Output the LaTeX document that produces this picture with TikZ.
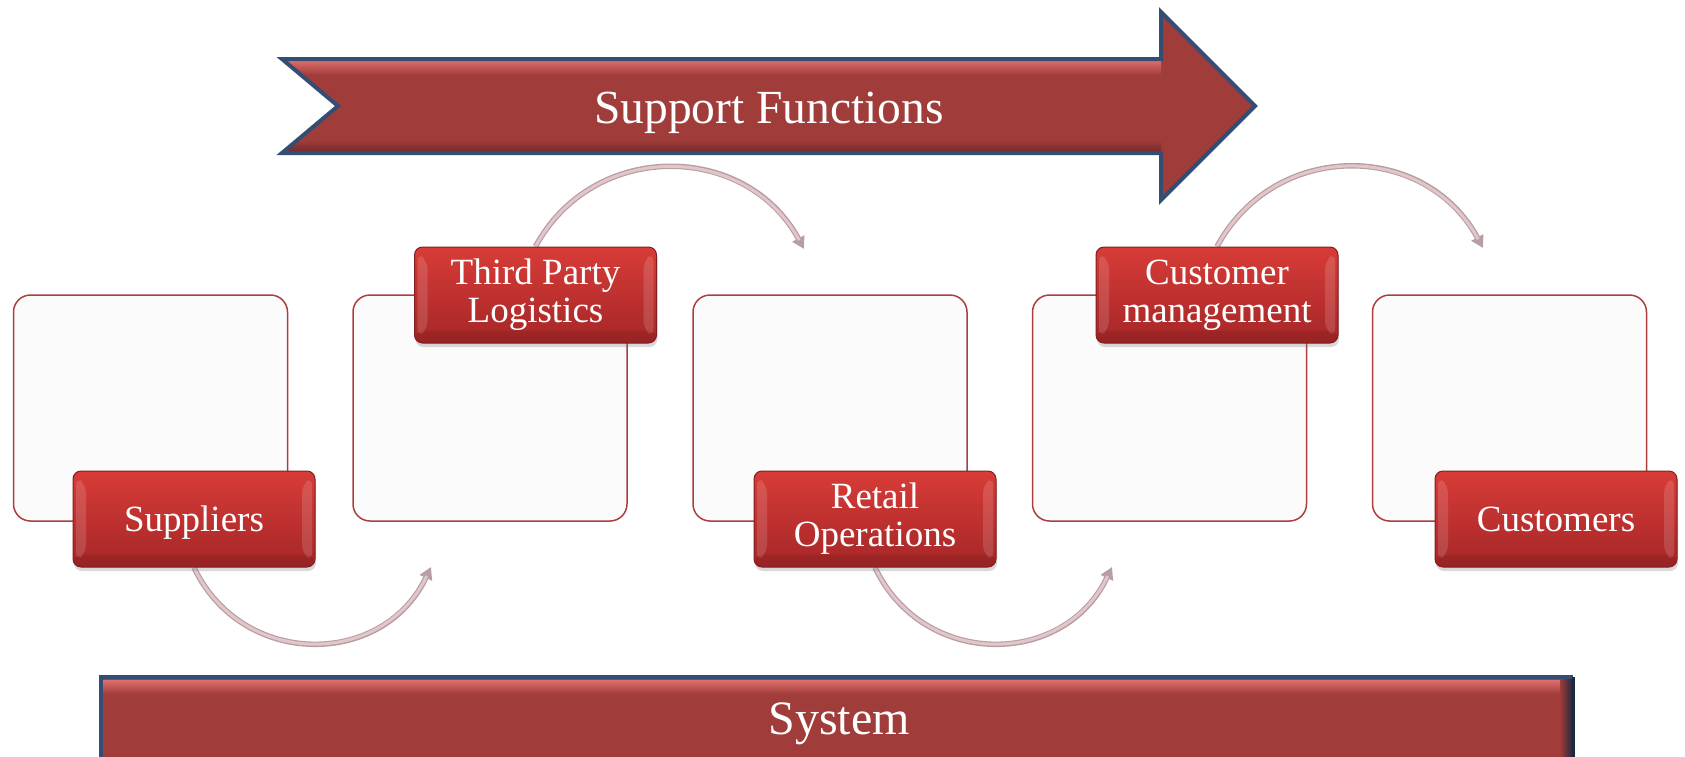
\documentclass[tikz,border=0pt]{standalone}
\usepackage{fontspec}
\setmainfont{Liberation Serif}
\usetikzlibrary{arrows.meta,shadows}
\definecolor{barred}{RGB}{160,60,58}
\definecolor{barlight}{RGB}{222,112,110}
\definecolor{bardark}{RGB}{110,42,44}
\definecolor{barblue}{RGB}{52,78,115}
\definecolor{barnavy}{RGB}{28,40,62}
\definecolor{labtop}{RGB}{216,60,55}
\definecolor{labbot}{RGB}{165,38,40}
\definecolor{labedge}{RGB}{130,30,32}
\definecolor{boxline}{RGB}{172,62,62}
\definecolor{boxfill}{RGB}{251,251,251}
\definecolor{arcpink}{RGB}{226,198,202}
\definecolor{arcgray}{RGB}{182,158,163}
\pgfdeclarelayer{bg}
\pgfsetlayers{bg,main}
\begin{document}
\begin{tikzpicture}[x=1pt,y=-1pt,
  cardbox/.style={draw=boxline, line width=1.5pt, fill=boxfill, rounded corners=17pt,
    minimum width=274pt, minimum height=226pt, inner sep=0pt},
  redlabel/.style={draw=labedge, line width=1pt, rounded corners=8pt,
    top color=labtop, bottom color=labbot,
    minimum width=242pt, minimum height=96pt, inner sep=0pt, align=center,
    text=white, font=\fontsize{37}{38}\selectfont,
    drop shadow={shadow xshift=1pt, shadow yshift=-4pt, opacity=0.3},
    path picture={
      \fill[white,opacity=0.14] ([xshift=3pt,yshift=-6pt]path picture bounding box.north west)
        -- ([xshift=13pt,yshift=-14pt]path picture bounding box.north west)
        -- ([xshift=13pt,yshift=14pt]path picture bounding box.south west)
        -- ([xshift=3pt,yshift=6pt]path picture bounding box.south west) -- cycle;
      \fill[white,opacity=0.14] ([xshift=-3pt,yshift=-6pt]path picture bounding box.north east)
        -- ([xshift=-13pt,yshift=-14pt]path picture bounding box.north east)
        -- ([xshift=-13pt,yshift=14pt]path picture bounding box.south east)
        -- ([xshift=-3pt,yshift=6pt]path picture bounding box.south east) -- cycle;
      \fill[black,opacity=0.08] ([yshift=12pt]path picture bounding box.south west)
        rectangle (path picture bounding box.south east);
    }},
  oneline/.style={text depth=0pt},
  arcout/.style={draw=arcgray, line width=5.5pt, -{Triangle[length=12pt,width=13pt]}},
  arcin/.style={draw=arcpink, line width=3pt, shorten >=10pt},
  bigtext/.style={text=white, inner sep=0pt}
]
\useasboundingbox (0,0) rectangle (1685,756);
\clip (0,0) rectangle (1685,756);

% support functions arrow
\path[fill=barred] (282,59) -- (1161,59) -- (1161,12) -- (1255,106) -- (1161,200)
  -- (1161,153) -- (282,153) -- (338,106) -- cycle;
\begin{scope}
  \clip (282,59) -- (1161,59) -- (1161,12) -- (1255,106) -- (1161,200)
    -- (1161,153) -- (282,153) -- (338,106) -- cycle;
  \shade[top color=barlight, bottom color=barred] (282,60) rectangle (1161,75);
  \shade[top color=barred, bottom color=bardark] (282,140) rectangle (1161,153);
\end{scope}
\draw[barblue, line width=4pt, line join=miter] (282,59) -- (1161,59) -- (1161,12) -- (1255,106) -- (1161,200)
  -- (1161,153) -- (282,153) -- (338,106) -- cycle;
\node[bigtext, anchor=base, font=\fontsize{47.5}{50}\selectfont] (sf) at (769,123) {Support Functions};

% system bar
\path[fill=barred] (101,677) rectangle (1573,770);
\shade[top color=barlight, bottom color=barred] (103,680) rectangle (1571,694);
\shade[left color=barred, right color=barnavy] (1560,679) rectangle (1573,770);
\draw[barblue, line width=4pt] (101,770) -- (101,677) -- (1573,677);
\draw[barnavy, line width=3pt] (1573,677) -- (1573,770);
\node[bigtext, anchor=base, font=\fontsize{48}{50}\selectfont] (sys) at (839,734) {System};

% boxes
\begin{pgfonlayer}{bg}
\node[cardbox] (b1) at (150.5,408) {};
\node[cardbox] (b2) at (490,408) {};
\node[cardbox] (b3) at (830,408) {};
\node[cardbox] (b4) at (1169.5,408) {};
\node[cardbox] (b5) at (1509.5,408) {};
\end{pgfonlayer}

% labels
\node[redlabel, oneline] (sup) at (194,519) {Suppliers};
\node[redlabel] (tpl) at (535.5,295) {Third Party\\Logistics};
\node[redlabel] (ret) at (875,519) {Retail\\Operations};
\node[redlabel] (cm) at (1217,295) {Customer\\management};
\node[redlabel, oneline] (cus) at (1556,519) {Customers};

% arc arrow ends
\coordinate (e1) at (431,567);
\coordinate (e2) at (804,249);
\coordinate (e3) at (1112,567);
\coordinate (e4) at (1483,248);

\begin{pgfonlayer}{bg}
\draw[arcout] (sup.south) .. controls +(48,101) and +(-48,101) .. (e1);
\draw[arcin]  (sup.south) .. controls +(48,101) and +(-48,101) .. (e1);
\draw[arcout] (ret.south) .. controls +(48,101) and +(-48,101) .. (e3);
\draw[arcin]  (ret.south) .. controls +(48,101) and +(-48,101) .. (e3);
\draw[arcout] (tpl.north) .. controls +(58,-107) and +(-58,-107) .. (e2);
\draw[arcin]  (tpl.north) .. controls +(58,-107) and +(-58,-107) .. (e2);
\draw[arcout] (cm.north) .. controls +(58,-107) and +(-58,-107) .. (e4);
\draw[arcin]  (cm.north) .. controls +(58,-107) and +(-58,-107) .. (e4);
\end{pgfonlayer}
\end{tikzpicture}
\end{document}
